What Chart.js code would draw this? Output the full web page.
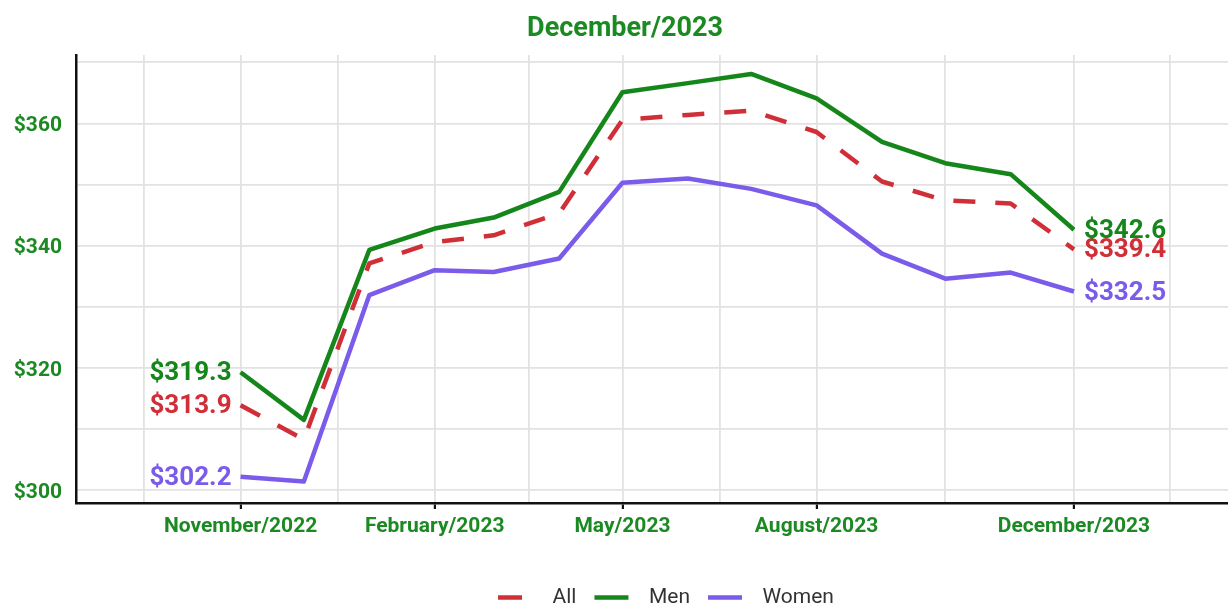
<!DOCTYPE html>
<html>
<head>
<meta charset="utf-8">
<script src="https://cdn.jsdelivr.net/npm/chart.js@4.4.1/dist/chart.umd.min.js"></script>
<style>
  html, body { margin: 0; padding: 0; background: #ffffff; }
  #wrap { width: 1228px; height: 608px; position: relative; }
</style>
</head>
<body>
<div id="wrap"><canvas id="chart"></canvas></div>
<script>
// ---------------- data ----------------
const months = ['2022-11-01','2022-12-01','2023-01-01','2023-02-01','2023-03-01','2023-04-01','2023-05-01',
                '2023-06-01','2023-07-01','2023-08-01','2023-09-01','2023-10-01','2023-11-01','2023-12-01'];
const allValues   = [313.9, 308.3, 337.1, 340.6, 341.7, 345.3, 360.6, 361.4, 362.1, 358.6, 350.5, 347.4, 346.9, 339.4];
const menValues   = [319.3, 311.5, 339.3, 342.8, 344.6, 348.8, 365.1, 366.6, 368.1, 364.1, 357.0, 353.5, 351.7, 342.6];
const womenValues = [302.2, 301.4, 331.9, 336.0, 335.7, 337.9, 350.3, 351.0, 349.3, 346.6, 338.7, 334.6, 335.6, 332.5];
const seriesNames = ['All', 'Men', 'Women'];

const xTickDates  = ['2022-11-01','2023-02-01','2023-05-01','2023-08-01','2023-12-01'];
const xTickLabels = ['November/2022','February/2023','May/2023','August/2023','December/2023'];
const xOuterBreaks = ['2022-08-01','2024-03-01'];
const xRange = ['2022-08-15','2024-02-12'];

const yTicks = [300, 310, 320, 330, 340, 350, 360, 370];
const yLabelTicks = [300, 320, 340, 360];
const yRange = [297.9, 371.2];

const titleText = 'December/2023';

// ---------------- helpers ----------------
const ORIGIN = Date.parse('2022-11-01T00:00:00Z');
const dayOf = s => (Date.parse(s + 'T00:00:00Z') - ORIGIN) / 86400000;

const GREEN = '#15861a';
const RED = '#d02f38';
const PURPLE = '#7a5bea';
const TEXT_GREEN = '#1c8a22';

const majorDays = xTickDates.map(dayOf);
const breakDays = [dayOf(xOuterBreaks[0]), ...majorDays, dayOf(xOuterBreaks[1])];
const minorDays = [];
for (let i = 0; i < breakDays.length - 1; i++) minorDays.push((breakDays[i] + breakDays[i + 1]) / 2);
const xGridDays = [...majorDays, ...minorDays].sort((a, b) => a - b);
const isMajor = v => majorDays.some(m => Math.abs(m - v) < 1e-6);

const toPoints = vals => months.map((m, i) => ({ x: dayOf(m), y: vals[i] }));

const endLabels = {
  id: 'endLabels',
  afterDatasetsDraw(chart) {
    const ctx = chart.ctx;
    ctx.save();
    ctx.font = 'bold 26px Roboto';
    ctx.textBaseline = 'middle';
    chart.data.datasets.forEach((ds, i) => {
      const meta = chart.getDatasetMeta(i);
      const first = meta.data[0];
      const last = meta.data[meta.data.length - 1];
      ctx.fillStyle = ds.borderColor;
      ctx.textAlign = 'right';
      ctx.fillText('$' + ds.data[0].y.toFixed(1), first.x - 9, first.y + 1.5);
      ctx.textAlign = 'left';
      ctx.fillText('$' + ds.data[ds.data.length - 1].y.toFixed(1), last.x + 10, last.y + 1.5);
    });
    ctx.restore();
  }
};

const blockShift = {
  id: 'blockShift',
  afterLayout(chart) {
    const lg = chart.legend;
    if (lg) { lg.left += 14; lg.right += 14; }
    const tb = chart.titleBlock;
    if (tb) { tb.left += 11; tb.right += 11; }
  }
};

new Chart(document.getElementById('chart'), {
  type: 'line',
  data: {
    datasets: [
      { label: seriesNames[0], data: toPoints(allValues), borderColor: RED, borderWidth: 4.5, borderDash: [22, 20], pointRadius: 0, tension: 0, borderJoinStyle: 'round' },
      { label: seriesNames[1], data: toPoints(menValues), borderColor: GREEN, borderWidth: 4.5, pointRadius: 0, tension: 0, borderJoinStyle: 'round' },
      { label: seriesNames[2], data: toPoints(womenValues), borderColor: PURPLE, borderWidth: 4.5, pointRadius: 0, tension: 0, borderJoinStyle: 'round' }
    ]
  },
  options: {
    responsive: true,
    maintainAspectRatio: false,
    animation: false,
    layout: { padding: { left: 0, right: 0, top: 0, bottom: 0 } },
    scales: {
      x: {
        type: 'linear',
        min: dayOf(xRange[0]),
        max: dayOf(xRange[1]),
        afterBuildTicks: scale => { scale.ticks = xGridDays.map(v => ({ value: v })); },
        afterFit: scale => { scale.height = 66; },
        grid: {
          color: '#e2e2e2',
          lineWidth: 1.8,
          drawTicks: true,
          tickLength: 6,
          tickWidth: 2.2,
          tickColor: c => (c.tick && isMajor(c.tick.value)) ? '#111111' : 'rgba(0,0,0,0)'
        },
        border: { display: true, color: '#111111', width: 2.5 },
        ticks: {
          autoSkip: false,
          maxRotation: 0,
          minRotation: 0,
          padding: 5,
          color: TEXT_GREEN,
          font: { family: 'Roboto', size: 21, weight: 'bold' },
          callback: v => { const k = majorDays.findIndex(m => Math.abs(m - v) < 1e-6); return k >= 0 ? xTickLabels[k] : ''; }
        }
      },
      y: {
        type: 'linear',
        min: yRange[0],
        max: yRange[1],
        afterBuildTicks: scale => { scale.ticks = yTicks.map(v => ({ value: v })); },
        afterFit: scale => { scale.width = 76; },
        grid: { color: '#e2e2e2', lineWidth: 1.8, drawTicks: false },
        border: { display: true, color: '#111111', width: 2.5 },
        ticks: {
          padding: 14,
          labelOffset: 2.5,
          color: TEXT_GREEN,
          font: { family: 'Roboto', size: 21, weight: 'bold' },
          callback: v => yLabelTicks.includes(v) ? '$' + v : ''
        }
      }
    },
    plugins: {
      title: {
        display: true,
        text: titleText,
        color: TEXT_GREEN,
        font: { family: 'Roboto', size: 27, weight: 'bold' },
        padding: { top: 13, bottom: 9.6 }
      },
      legend: {
        display: true,
        position: 'bottom',
        fullSize: false,
        maxHeight: 39,
        labels: {
          boxWidth: 44,
          boxHeight: 0,
          padding: 18,
          color: '#333333',
          font: { family: 'Roboto', size: 21 },
          generateLabels: chart => chart.data.datasets.map((ds, i) => ({
            text: ds.label,
            fillStyle: 'rgba(0,0,0,0)',
            strokeStyle: ds.borderColor,
            lineWidth: 4.5,
            lineDash: i === 0 ? [24, 200] : [34, 200],
            lineDashOffset: 0,
            fontColor: '#333333',
            hidden: false,
            datasetIndex: i
          }))
        }
      },
      tooltip: { enabled: false }
    }
  },
  plugins: [endLabels, blockShift]
});
</script>
</body>
</html>
